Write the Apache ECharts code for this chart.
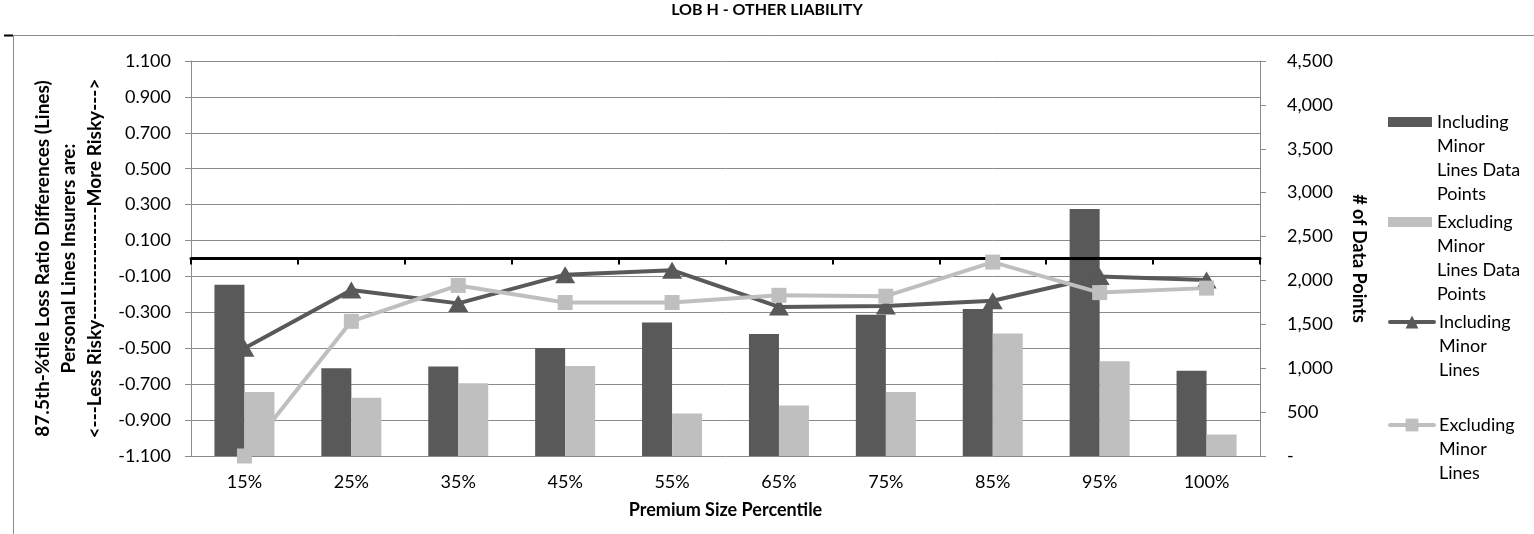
<!DOCTYPE html>
<html>
<head>
<meta charset="utf-8">
<title>LOB H - OTHER LIABILITY</title>
<script src="https://cdn.jsdelivr.net/npm/echarts@6/dist/echarts.min.js"></script>
<style>
  html, body { margin: 0; padding: 0; background: #ffffff; }
  #chart { width: 1534px; height: 534px; }
</style>
</head>
<body>
<div id="chart"></div>
<script>
// Premium size percentile buckets
const categories = ['15%', '25%', '35%', '45%', '55%', '65%', '75%', '85%', '95%', '100%'];

// Number of data points per bucket (right axis)
const inclPoints = [1950, 1000, 1020, 1230, 1520, 1390, 1610, 1675, 2815, 970];
const exclPoints = [730, 665, 830, 1025, 485, 575, 730, 1395, 1080, 245];

// 87.5th-percentile loss ratio differences (left axis)
const inclLR = [-0.50, -0.175, -0.25, -0.09, -0.065, -0.27, -0.265, -0.235, -0.10, -0.12];
const exclLR = [-1.10, -0.35, -0.15, -0.245, -0.245, -0.205, -0.21, -0.02, -0.19, -0.165];

// Series names and their wrapped legend labels
const seriesNames = [
  'Including Minor Lines Data Points',
  'Excluding Minor Lines Data Points',
  'Including Minor Lines',
  'Excluding Minor Lines'
];
const legendLabels = [
  ['Including', 'Minor', 'Lines Data', 'Points'],
  ['Excluding', 'Minor', 'Lines Data', 'Points'],
  ['Including', 'Minor', 'Lines'],
  ['Excluding', 'Minor', 'Lines']
];

const titleText = 'LOB H - OTHER LIABILITY';
const xAxisTitle = 'Premium Size Percentile';
const leftAxisTitle = '87.5th-%tile Loss Ratio Differences (Lines)\nPersonal Lines Insurers are:\n<---Less Risky----------------More Risky--->';
const rightAxisTitle = '# of Data Points';

const FONT = 'Lato, "Open Sans", sans-serif';
const DARK = '#595959';
const LIGHT = '#BFBFBF';
const GRID = '#8a8a8a';

const chart = echarts.init(document.getElementById('chart'), null, { renderer: 'canvas' });

// Legend text is padded with blank lines above so that the first
// line sits level with the legend icon (the text block is centred on it).
function wrappedLabel(name) {
  const lines = legendLabels[seriesNames.indexOf(name)];
  const blanks = new Array(lines.length - 1).fill('');
  return blanks.concat(lines).join('\n');
}

function legendFor(idx, top, itemHeight, icon) {
  const item = { name: seriesNames[idx] };
  const cfg = {
    left: 1388,
    top: top,
    padding: 0,
    itemWidth: 44,
    itemHeight: itemHeight,
    itemGap: 0,
    formatter: wrappedLabel,
    textStyle: { fontFamily: FONT, fontSize: 18, color: '#000', lineHeight: 24 },
    selectedMode: false
  };
  if (icon) {
    cfg.icon = icon;
  } else {
    cfg.lineStyle = { width: 4, cap: 'round' };
    item.lineStyle = { width: 4, cap: 'round' };
  }
  cfg.data = [item];
  return cfg;
}

const option = {
  animation: false,
  backgroundColor: '#ffffff',
  textStyle: { fontFamily: FONT },
  title: {
    text: titleText,
    left: 'center',
    top: -3,
    textStyle: { fontFamily: FONT, fontWeight: 'bold', fontSize: 16, color: '#000' }
  },
  graphic: [
    {
      type: 'polyline', silent: true,
      shape: { points: [[13.5, 534], [13.5, 35.5], [1534, 35.5]] },
      style: { stroke: GRID, lineWidth: 1, fill: null }
    },
    {
      type: 'line', silent: true,
      shape: { x1: 4, y1: 35.5, x2: 13, y2: 35.5 },
      style: { stroke: '#000', lineWidth: 2 }
    }
  ],
  legend: [
    legendFor(0, 38, 10, 'rect'),
    legendFor(1, 138, 10, 'rect'),
    legendFor(2, 262, 16, null),
    legendFor(3, 365, 16, null)
  ],
  grid: { left: 191, right: 274, top: 61, bottom: 78, containLabel: false },
  xAxis: [
    {
      // zero line of the loss-ratio axis with category ticks
      type: 'category',
      data: categories,
      position: 'bottom',
      z: 2.5,
      axisLine: { show: true, onZero: true, onZeroAxisIndex: 0, lineStyle: { color: '#000', width: 3 } },
      axisTick: { show: true, length: 6, lineStyle: { color: '#000', width: 2 } },
      axisLabel: { show: false },
      splitLine: { show: false }
    },
    {
      // category labels along the bottom of the plot
      type: 'category',
      data: categories,
      position: 'bottom',
      axisLine: { show: false, onZero: false },
      axisTick: { show: false },
      axisLabel: { show: true, fontFamily: FONT, fontSize: 18, color: '#000', margin: 17 },
      name: xAxisTitle,
      nameLocation: 'middle',
      nameGap: 45,
      nameTextStyle: { fontFamily: FONT, fontWeight: 'bold', fontSize: 18, color: '#000' }
    }
  ],
  yAxis: [
    {
      type: 'value',
      position: 'left',
      min: -1.1,
      max: 1.1,
      interval: 0.2,
      axisLine: { show: true, lineStyle: { color: GRID, width: 1 } },
      axisTick: { show: true, length: 6, lineStyle: { color: GRID } },
      axisLabel: {
        fontFamily: FONT, fontSize: 18, color: '#000', margin: 20,
        formatter: function (v) { return v.toFixed(3); }
      },
      splitLine: { show: true, lineStyle: { color: GRID, width: 1 } },
      name: leftAxisTitle,
      nameLocation: 'middle',
      nameRotate: 90,
      nameGap: 81,
      nameTextStyle: { fontFamily: FONT, fontWeight: 'bold', fontSize: 19, color: '#000', lineHeight: 26 }
    },
    {
      type: 'value',
      position: 'right',
      min: 0,
      max: 4500,
      interval: 500,
      axisLine: { show: true, lineStyle: { color: GRID, width: 1 } },
      axisTick: { show: true, length: 6, lineStyle: { color: GRID } },
      axisLabel: {
        fontFamily: FONT, fontSize: 18, color: '#000', margin: 27,
        formatter: function (v) { return v === 0 ? '-' : v.toLocaleString('en-US'); }
      },
      splitLine: { show: false },
      name: rightAxisTitle,
      nameLocation: 'middle',
      nameRotate: -90,
      nameGap: 90,
      nameTextStyle: { fontFamily: FONT, fontWeight: 'bold', fontSize: 18, color: '#000' }
    }
  ],
  series: [
    {
      name: seriesNames[0],
      type: 'bar',
      xAxisIndex: 1,
      yAxisIndex: 1,
      data: inclPoints,
      barWidth: 30,
      barGap: '0%',
      z: 1,
      itemStyle: { color: DARK }
    },
    {
      name: seriesNames[1],
      type: 'bar',
      xAxisIndex: 1,
      yAxisIndex: 1,
      data: exclPoints,
      barWidth: 30,
      barGap: '0%',
      z: 1,
      itemStyle: { color: LIGHT }
    },
    {
      name: seriesNames[2],
      type: 'line',
      xAxisIndex: 0,
      yAxisIndex: 0,
      data: inclLR,
      z: 3,
      symbol: 'triangle',
      symbolSize: [20, 17],
      lineStyle: { color: DARK, width: 4 },
      itemStyle: { color: DARK }
    },
    {
      name: seriesNames[3],
      type: 'line',
      xAxisIndex: 0,
      yAxisIndex: 0,
      data: exclLR,
      z: 4,
      symbol: 'rect',
      symbolSize: 15,
      lineStyle: { color: LIGHT, width: 4 },
      itemStyle: { color: LIGHT }
    }
  ]
};

chart.setOption(option);
</script>
</body>
</html>
